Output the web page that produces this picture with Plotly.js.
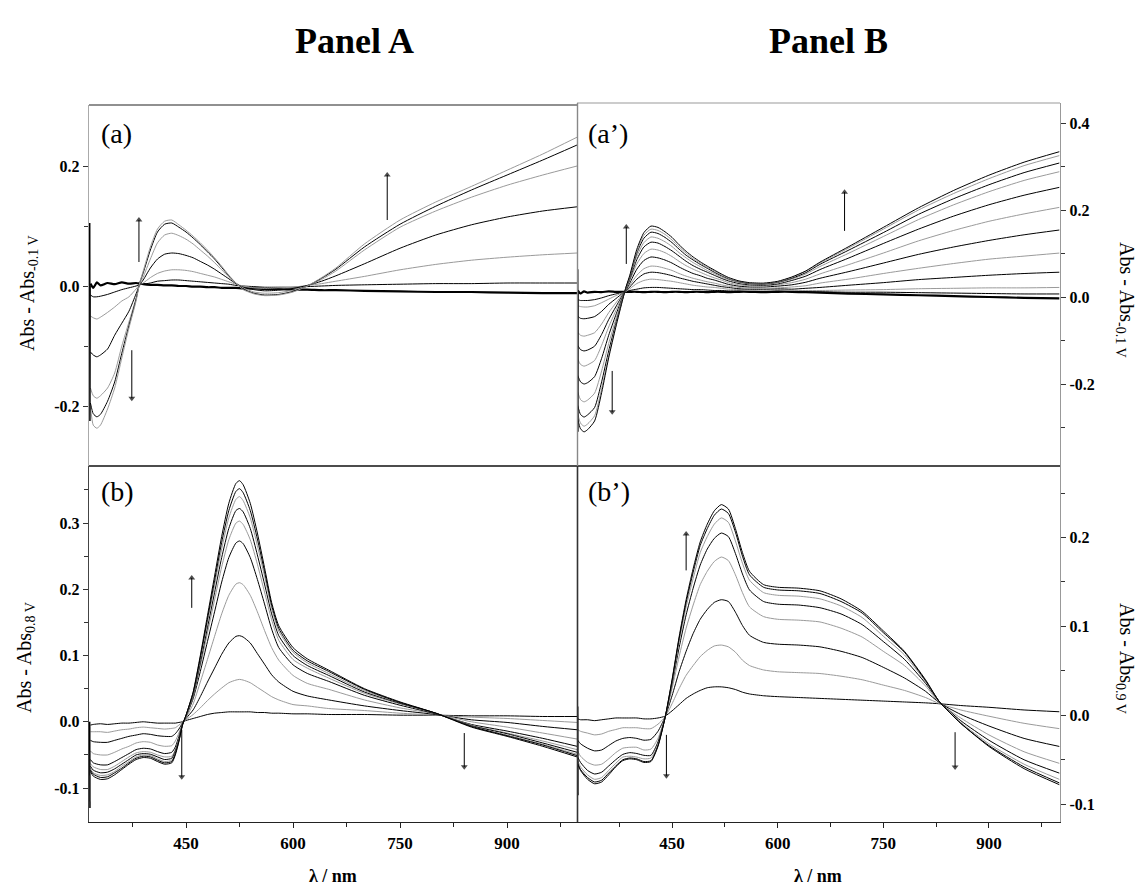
<!DOCTYPE html>
<html><head><meta charset="utf-8">
<script src="https://cdn.plot.ly/plotly-3.0.1.min.js"></script>
<style>html,body{margin:0;padding:0;background:#fff}#chart{width:1144px;height:886px}</style>
</head><body><div id="chart"></div>
<script>
// ---------- Panel (a): top-left, wavelength grid and spectra ----------
const wlA = [316,320,325,330,340,350,360,370,380,385,390,400,410,420,430,440,450,460,470,480,490,500,510,520,530,545,560,580,600,620,640,660,700,750,800,850,900,950,998];
const a1 = [0.004,-0.003,0.006,0.001,0.005,0.003,0.006,0.004,0.005,0.004,0.003,0.002,0.002,0.001,0.001,0.0,0.0,-0.001,-0.001,-0.002,-0.002,-0.003,-0.003,-0.003,-0.004,-0.004,-0.005,-0.005,-0.006,-0.006,-0.007,-0.007,-0.008,-0.009,-0.01,-0.01,-0.011,-0.012,-0.012];
const a2 = [-0.015,-0.018,-0.018,-0.017,-0.014,-0.01,-0.006,-0.003,0.0,0.002,0.003,0.005,0.008,0.009,0.01,0.01,0.009,0.008,0.007,0.006,0.005,0.004,0.003,0.001,0.0,-0.001,-0.002,-0.002,-0.002,-0.001,0.0,0.001,0.002,0.003,0.004,0.004,0.005,0.005,0.005];
const a3 = [-0.05,-0.053,-0.055,-0.052,-0.044,-0.035,-0.025,-0.018,-0.005,0.002,0.005,0.014,0.021,0.025,0.027,0.027,0.026,0.024,0.021,0.018,0.015,0.011,0.007,0.003,0.0,-0.003,-0.004,-0.003,-0.002,0.001,0.004,0.008,0.016,0.027,0.036,0.043,0.048,0.052,0.055];
const a4 = [-0.11,-0.115,-0.118,-0.115,-0.105,-0.082,-0.062,-0.042,-0.013,0.002,0.01,0.03,0.045,0.053,0.055,0.054,0.051,0.047,0.041,0.035,0.028,0.02,0.012,0.004,-0.002,-0.006,-0.008,-0.007,-0.004,0.001,0.008,0.017,0.037,0.063,0.085,0.102,0.115,0.125,0.132];
const a5 = [-0.17,-0.183,-0.187,-0.183,-0.17,-0.145,-0.1,-0.06,-0.02,0.003,0.015,0.045,0.072,0.085,0.088,0.084,0.078,0.07,0.06,0.05,0.039,0.027,0.015,0.005,-0.003,-0.01,-0.012,-0.011,-0.007,0.0,0.011,0.025,0.06,0.098,0.125,0.148,0.168,0.185,0.2];
const a6 = [-0.195,-0.213,-0.218,-0.214,-0.192,-0.16,-0.112,-0.066,-0.022,0.005,0.022,0.06,0.09,0.103,0.105,0.098,0.09,0.08,0.069,0.057,0.045,0.031,0.017,0.005,-0.005,-0.012,-0.015,-0.014,-0.009,0.0,0.013,0.028,0.065,0.103,0.133,0.16,0.185,0.21,0.235];
const a7 = [-0.2,-0.232,-0.237,-0.232,-0.205,-0.17,-0.12,-0.07,-0.025,0.005,0.025,0.065,0.095,0.108,0.11,0.102,0.093,0.083,0.072,0.06,0.047,0.033,0.018,0.005,-0.006,-0.013,-0.016,-0.015,-0.01,0.0,0.014,0.03,0.07,0.11,0.14,0.166,0.193,0.22,0.248];
const spikeA_x = [315,315.3,315.6];
const spikeA_y = [0.105,-0.225,0.0];

// ---------- Panel (a'): top-right ----------
const wlAp = [316,320,325,330,340,350,360,370,380,385,390,400,410,420,430,440,450,460,470,480,490,500,510,520,530,545,560,580,600,620,640,660,700,750,800,850,900,950,1000];
const ap1 = [0.015,0.008,0.013,0.01,0.012,0.011,0.013,0.012,0.012,0.012, 0.012,0.012,0.011,0.012,0.012,0.011,0.012,0.012,0.011,0.012,0.012,0.011,0.012,0.012,0.011,0.012,0.012,0.011,0.012, 0.012,0.011,0.01,0.008,0.006,0.004,0.002,0.0,-0.002,-0.003];
const ap2 = [-0.006,-0.008,-0.008,-0.008,-0.006,-0.002,0.003,0.007,0.011,0.013, 0.015,0.018,0.021,0.022,0.022,0.021,0.02,0.019,0.018,0.017,0.017,0.016,0.015,0.015,0.014,0.014,0.013,0.013,0.014, 0.013,0.012,0.012,0.011,0.011,0.01,0.009,0.008,0.007,0.007];
const ap3 = [-0.02,-0.022,-0.023,-0.023,-0.02,-0.013,-0.005,0.003,0.01,0.013, 0.019,0.031,0.038,0.041,0.04,0.038,0.036,0.033,0.03,0.027,0.025,0.023,0.022,0.02,0.018,0.017,0.016,0.016,0.017, 0.015,0.015,0.015,0.016,0.017,0.019,0.02,0.021,0.021,0.022];
const ap4 = [-0.044,-0.049,-0.05,-0.049,-0.045,-0.033,-0.017,-0.004,0.009,0.015, 0.023,0.041,0.053,0.057,0.056,0.053,0.049,0.044,0.04,0.036,0.033,0.03,0.027,0.024,0.022,0.019,0.018,0.018,0.019, 0.018,0.02,0.022,0.027,0.033,0.04,0.045,0.05,0.054,0.057];
const ap5 = [-0.081,-0.088,-0.09,-0.088,-0.082,-0.062,-0.036,-0.014,0.007,0.016, 0.027,0.05,0.065,0.071,0.07,0.066,0.061,0.054,0.048,0.043,0.039,0.035,0.032,0.028,0.025,0.022,0.02,0.02,0.021, 0.023,0.026,0.032,0.041,0.054,0.066,0.077,0.087,0.094,0.101];
const ap6 = [-0.111,-0.121,-0.124,-0.122,-0.113,-0.086,-0.052,-0.023,0.005,0.017, 0.032,0.064,0.084,0.092,0.09,0.085,0.078,0.069,0.061,0.054,0.049,0.043,0.039,0.034,0.029,0.025,0.023,0.023,0.025, 0.028,0.034,0.043,0.058,0.078,0.098,0.115,0.13,0.143,0.154];
const ap7 = [-0.143,-0.155,-0.159,-0.156,-0.146,-0.111,-0.069,-0.032,0.003,0.019, 0.037,0.076,0.1,0.11,0.108,0.102,0.093,0.082,0.072,0.064,0.057,0.05,0.044,0.039,0.033,0.028,0.026,0.025,0.028, 0.033,0.041,0.053,0.074,0.101,0.129,0.153,0.174,0.191,0.206];
const ap8 = [-0.18,-0.195,-0.2,-0.197,-0.183,-0.141,-0.088,-0.042,0.001,0.021, 0.041,0.086,0.115,0.126,0.124,0.116,0.106,0.094,0.082,0.072,0.064,0.057,0.05,0.043,0.037,0.031,0.028,0.027,0.03, 0.038,0.048,0.063,0.089,0.123,0.156,0.186,0.212,0.234,0.252];
const ap9 = [-0.218,-0.236,-0.241,-0.237,-0.221,-0.17,-0.107,-0.052,-0.001,0.022, 0.044,0.094,0.125,0.138,0.135,0.127,0.116,0.102,0.09,0.079,0.07,0.061,0.054,0.046,0.04,0.033,0.03,0.029,0.032, 0.041,0.053,0.07,0.1,0.139,0.178,0.212,0.242,0.268,0.288];
const ap10 = [-0.249,-0.27,-0.276,-0.271,-0.254,-0.195,-0.124,-0.061,-0.003,0.024, 0.046,0.101,0.135,0.149,0.146,0.137,0.125,0.11,0.096,0.085,0.075,0.066,0.057,0.049,0.042,0.035,0.031,0.03,0.034, 0.043,0.056,0.075,0.107,0.148,0.19,0.226,0.258,0.286,0.308];
const ap11 = [-0.268,-0.29,-0.297,-0.292,-0.273,-0.211,-0.134,-0.067,-0.004,0.024, 0.048,0.105,0.142,0.156,0.153,0.144,0.131,0.115,0.101,0.088,0.078,0.068,0.06,0.051,0.043,0.036,0.032,0.031,0.035, 0.045,0.059,0.078,0.112,0.156,0.2,0.238,0.272,0.302,0.325];
const ap12 = [-0.28,-0.303,-0.31,-0.305,-0.285,-0.22,-0.14,-0.07,-0.005,0.025, 0.05,0.11,0.148,0.163,0.16,0.15,0.137,0.12,0.105,0.092,0.081,0.071,0.062,0.053,0.045,0.037,0.033,0.032,0.036, 0.046,0.06,0.08,0.115,0.16,0.205,0.245,0.28,0.31,0.334];
const spikeAp_x = [316,316.3,316.6];
const spikeAp_y = [0.064,-0.31,0.01];

// ---------- Panel (b): bottom-left ----------
const wlB = [316,320,330,340,350,360,370,380,390,400,410,420,430,435,440,445,450,460,470,480,490,500,510,520,525,530,540,550,560,570,580,600,620,650,700,750,800,850,900,950,998];
const b1 = [-0.005,-0.004,-0.003,-0.004,-0.003,-0.002,-0.002,-0.001,0.0,-0.001,-0.002,-0.002,-0.002,-0.002,-0.001,0.0,0.002,0.005,0.008,0.011,0.013,0.014,0.015,0.015,0.015,0.015,0.015,0.014,0.014,0.013,0.013,0.012,0.012,0.011,0.011,0.01,0.01,0.009,0.009,0.008,0.008];
const b2 = [-0.015,-0.015,-0.015,-0.016,-0.014,-0.012,-0.011,-0.009,-0.008,-0.009,-0.01,-0.011,-0.01,-0.009,-0.005,-0.001,0.003,0.011,0.021,0.032,0.042,0.051,0.059,0.063,0.064,0.063,0.059,0.052,0.045,0.038,0.033,0.026,0.024,0.02,0.017,0.013,0.01,0.007,0.005,0.002,-0.001];
const b3 = [-0.028,-0.03,-0.031,-0.031,-0.028,-0.025,-0.022,-0.02,-0.018,-0.019,-0.021,-0.022,-0.022,-0.018,-0.011,-0.002,0.005,0.018,0.038,0.06,0.081,0.102,0.119,0.129,0.13,0.128,0.119,0.103,0.087,0.071,0.06,0.046,0.039,0.033,0.024,0.017,0.011,0.003,-0.001,-0.007,-0.012];
const b4 = [-0.044,-0.048,-0.05,-0.05,-0.046,-0.041,-0.037,-0.032,-0.03,-0.031,-0.035,-0.037,-0.036,-0.029,-0.017,-0.003,0.006,0.027,0.06,0.094,0.129,0.163,0.191,0.208,0.21,0.207,0.191,0.166,0.138,0.112,0.093,0.07,0.058,0.049,0.033,0.021,0.012,0.0,-0.008,-0.017,-0.026];
const b5 = [-0.057,-0.062,-0.065,-0.065,-0.06,-0.054,-0.048,-0.042,-0.04,-0.041,-0.045,-0.048,-0.046,-0.038,-0.022,-0.004,0.008,0.035,0.076,0.121,0.166,0.211,0.248,0.27,0.273,0.269,0.248,0.215,0.178,0.14,0.112,0.086,0.073,0.061,0.04,0.025,0.012,-0.004,-0.014,-0.025,-0.037];
const b6 = [-0.063,-0.068,-0.072,-0.072,-0.067,-0.06,-0.053,-0.047,-0.045,-0.046,-0.05,-0.053,-0.052,-0.042,-0.025,-0.004,0.009,0.038,0.084,0.134,0.184,0.234,0.275,0.3,0.303,0.298,0.275,0.238,0.196,0.154,0.123,0.094,0.081,0.066,0.043,0.027,0.013,-0.005,-0.017,-0.029,-0.042];
const b7 = [-0.067,-0.073,-0.077,-0.076,-0.071,-0.064,-0.057,-0.05,-0.048,-0.049,-0.053,-0.057,-0.055,-0.044,-0.027,-0.004,0.009,0.04,0.089,0.142,0.195,0.248,0.292,0.319,0.322,0.317,0.292,0.252,0.208,0.163,0.13,0.1,0.085,0.07,0.045,0.028,0.013,-0.006,-0.018,-0.032,-0.046];
const b8 = [-0.07,-0.077,-0.081,-0.08,-0.075,-0.067,-0.06,-0.053,-0.05,-0.051,-0.056,-0.06,-0.058,-0.047,-0.028,-0.005,0.009,0.042,0.094,0.15,0.206,0.261,0.308,0.336,0.34,0.334,0.308,0.266,0.22,0.171,0.137,0.105,0.089,0.073,0.047,0.029,0.013,-0.007,-0.02,-0.034,-0.049];
const b9 = [-0.073,-0.079,-0.084,-0.083,-0.077,-0.07,-0.062,-0.055,-0.052,-0.053,-0.058,-0.062,-0.06,-0.048,-0.029,-0.005,0.01,0.044,0.097,0.155,0.213,0.271,0.319,0.348,0.352,0.346,0.319,0.276,0.227,0.176,0.141,0.108,0.092,0.076,0.049,0.029,0.013,-0.007,-0.021,-0.035,-0.051];
const b10 = [-0.075,-0.082,-0.087,-0.086,-0.08,-0.072,-0.064,-0.057,-0.054,-0.055,-0.06,-0.064,-0.062,-0.05,-0.03,-0.005,0.01,0.045,0.1,0.16,0.22,0.28,0.33,0.36,0.364,0.358,0.33,0.285,0.233,0.18,0.145,0.112,0.095,0.078,0.05,0.03,0.013,-0.008,-0.022,-0.037,-0.053];
const spikeB_x = [315,315.3];
const spikeB_y = [0.0,-0.13];

// ---------- Panel (b'): bottom-right ----------
const wlBp = [316,320,330,340,350,360,370,380,390,400,410,420,430,440,450,460,470,480,490,500,510,520,530,540,550,560,580,600,630,660,690,720,750,780,810,830,860,900,950,1000];
const bp1 = [-0.004,-0.005,-0.005,-0.006,-0.005,-0.004,-0.003,-0.003,-0.003,-0.003,-0.004,-0.004,-0.003,-0.001,0.005,0.012,0.019,0.024,0.028,0.031,0.032,0.032,0.031,0.029,0.026,0.024,0.022,0.021,0.02,0.019,0.018,0.017,0.016,0.015,0.014,0.013,0.011,0.009,0.006,0.004];
const bp2 = [-0.016,-0.018,-0.02,-0.022,-0.021,-0.018,-0.016,-0.014,-0.014,-0.014,-0.015,-0.015,-0.01,-0.002,0.013,0.03,0.045,0.056,0.066,0.073,0.078,0.079,0.077,0.071,0.062,0.056,0.051,0.049,0.048,0.047,0.044,0.04,0.034,0.028,0.02,0.013,0.006,-0.001,-0.009,-0.015];
const bp3 = [-0.028,-0.032,-0.037,-0.04,-0.039,-0.034,-0.029,-0.026,-0.025,-0.026,-0.028,-0.027,-0.018,-0.002,0.022,0.049,0.072,0.092,0.108,0.119,0.127,0.13,0.128,0.116,0.101,0.09,0.082,0.08,0.079,0.077,0.072,0.065,0.054,0.042,0.027,0.014,0.001,-0.012,-0.026,-0.035];
const bp4 = [-0.04,-0.046,-0.053,-0.056,-0.055,-0.049,-0.042,-0.037,-0.036,-0.036,-0.039,-0.038,-0.026,-0.002,0.03,0.066,0.098,0.124,0.147,0.162,0.173,0.178,0.174,0.158,0.138,0.122,0.111,0.108,0.107,0.105,0.098,0.088,0.072,0.056,0.033,0.014,-0.003,-0.022,-0.041,-0.054];
const bp5 = [-0.047,-0.053,-0.062,-0.066,-0.064,-0.057,-0.05,-0.044,-0.042,-0.043,-0.045,-0.045,-0.03,-0.003,0.035,0.076,0.113,0.143,0.169,0.187,0.199,0.205,0.201,0.182,0.159,0.141,0.128,0.125,0.124,0.121,0.114,0.102,0.083,0.063,0.036,0.015,-0.006,-0.028,-0.05,-0.065];
const bp6 = [-0.051,-0.058,-0.067,-0.072,-0.07,-0.062,-0.054,-0.047,-0.046,-0.047,-0.049,-0.048,-0.033,-0.003,0.037,0.082,0.122,0.154,0.183,0.201,0.215,0.222,0.217,0.196,0.171,0.152,0.138,0.135,0.134,0.131,0.123,0.11,0.089,0.068,0.038,0.015,-0.008,-0.032,-0.055,-0.072];
const bp7 = [-0.054,-0.061,-0.07,-0.075,-0.073,-0.065,-0.057,-0.05,-0.048,-0.049,-0.052,-0.051,-0.034,-0.003,0.039,0.086,0.127,0.161,0.191,0.21,0.225,0.232,0.227,0.206,0.179,0.158,0.144,0.141,0.14,0.137,0.128,0.115,0.093,0.071,0.039,0.015,-0.009,-0.034,-0.058,-0.076];
const bp8 = [-0.055,-0.062,-0.072,-0.077,-0.075,-0.067,-0.058,-0.051,-0.049,-0.05,-0.053,-0.052,-0.035,-0.003,0.04,0.088,0.13,0.165,0.195,0.215,0.23,0.237,0.232,0.21,0.183,0.162,0.147,0.144,0.143,0.14,0.131,0.117,0.095,0.072,0.04,0.015,-0.009,-0.035,-0.06,-0.078];
const spikeBp_x = [316,316.3];
const spikeBp_y = [0.01,-0.09];

// ---------- tick labels ----------
const xTickVals = [450,600,750,900];
const xTickText = ['450','600','750','900'];
const xMinor = [375,525,675,825,975];
const yA_vals = [-0.2,0,0.2];      const yA_text = ['-0.2','0.0','0.2'];   const yA_minor = [-0.1,0.1];
const yAp_vals = [-0.2,0,0.2,0.4]; const yAp_text = ['-0.2','0.0','0.2','0.4']; const yAp_minor = [-0.3,-0.1,0.1,0.3];
const yB_vals = [-0.1,0,0.1,0.2,0.3]; const yB_text = ['-0.1','0.0','0.1','0.2','0.3']; const yB_minor = [-0.05,0.05,0.15,0.25,0.35];
const yBp_vals = [-0.1,0,0.1,0.2]; const yBp_text = ['-0.1','0.0','0.1','0.2']; const yBp_minor = [-0.05,0.05,0.15,0.25];

// arrows: [wavelength, tail value, tip value]
const arrowsA  = [[384,0.04,0.11],[374,-0.107,-0.187],[732,0.11,0.185]];
const arrowsAp = [[385,0.076,0.161],[365,-0.17,-0.264],[695,0.152,0.241]];
const arrowsB  = [[458,0.172,0.217],[444,-0.012,-0.083],[840,-0.017,-0.068]];
const arrowsBp = [[470,0.163,0.204],[442,-0.022,-0.068],[852,-0.019,-0.058]];

// ---------- build ----------
const BLK = '#000000', GRY = '#9a9a9a';
function ln(x, y, color, xa, ya, w, lin) {
  return {type:'scatter', mode:'lines', x:x, y:y, xaxis:xa, yaxis:ya,
    line:{color:color, width:w||1, shape: lin ? 'linear' : 'spline', smoothing:0.6},
    hoverinfo:'skip', showlegend:false};
}
const traces = [];
[[a1,BLK,2.2],[a2,BLK,1],[a3,GRY,1],[a4,BLK,1],[a5,GRY,1],[a6,BLK,1],[a7,GRY,1]].forEach(s=>traces.push(ln(wlA,s[0],s[1],'x2','y2',s[2])));
traces.push(ln(spikeA_x,spikeA_y,BLK,'x2','y2',1.5,true));
[[ap1,BLK,2.2],[ap2,BLK,1],[ap3,GRY,1],[ap4,BLK,1],[ap5,GRY,1],[ap6,BLK,1],[ap7,GRY,1],[ap8,BLK,1],[ap9,GRY,1],[ap10,BLK,1],[ap11,GRY,1],[ap12,BLK,1]].forEach(s=>traces.push(ln(wlAp,s[0],s[1],'x4','y4',s[2])));
traces.push(ln(spikeAp_x,spikeAp_y,BLK,'x4','y4',1.5,true));
[[b1,BLK],[b2,GRY],[b3,BLK],[b4,GRY],[b5,BLK],[b6,GRY],[b7,BLK],[b8,GRY],[b9,BLK],[b10,BLK]].forEach(s=>traces.push(ln(wlB,s[0],s[1],'x','y',1)));
traces.push(ln(spikeB_x,spikeB_y,BLK,'x','y',1.5,true));
[[bp1,BLK],[bp2,GRY],[bp3,BLK],[bp4,GRY],[bp5,BLK],[bp6,GRY],[bp7,BLK],[bp8,BLK]].forEach(s=>traces.push(ln(wlBp,s[0],s[1],'x3','y3',1)));
traces.push(ln(spikeBp_x,spikeBp_y,BLK,'x3','y3',1.5,true));

function arrowTraces(list, xa, ya) {
  list.forEach(a => {
    const up = a[2] > a[1];
    traces.push({type:'scatter', mode:'lines+markers', x:[a[0],a[0]], y:[a[1],a[2]], xaxis:xa, yaxis:ya,
      line:{color:'#000', width:1}, marker:{symbol: up ? 'triangle-up' : 'triangle-down', size:[0,6], color:'#000', line:{width:0}},
      hoverinfo:'skip', showlegend:false});
  });
}
arrowTraces(arrowsA, 'x2', 'y2');
arrowTraces(arrowsAp, 'x4', 'y4');
arrowTraces(arrowsB, 'x', 'y');
arrowTraces(arrowsBp, 'x3', 'y3');

const W = 1144, H = 886;
const PX = p => p / W, PY = p => 1 - p / H;
const FONT = 'Liberation Serif, Times New Roman, serif';
const tickFont = {family:FONT, size:16, color:'#000', weight:'bold'};

function xBottom(dom, rng, anchor) {
  return {domain:dom, range:rng, anchor:anchor, showgrid:false, zeroline:false,
    showline:true, linecolor:'#222', linewidth:1.2, ticks:'outside', ticklen:5, tickcolor:'#222',
    tickmode:'array', tickvals:xTickVals, ticktext:xTickText, tickfont:{family:FONT,size:17,color:'#000',weight:'bold'},
    minor:{tickmode:'array', tickvals:xMinor, ticks:'outside', ticklen:4, tickcolor:'#222', showgrid:false}};
}
function xTop(dom, rng, anchor) {
  return {domain:dom, range:rng, anchor:anchor, visible:false, showgrid:false, zeroline:false, showline:false,
    showticklabels:false, ticks:''};
}
function yAx(dom, rng, anchor, side, vals, text, minor, lc) {
  return {domain:dom, range:rng, anchor:anchor, side:side, showgrid:false, zeroline:false,
    showline:true, linecolor:lc, linewidth:1.2, ticks:'outside', ticklen:5, tickcolor:'#333',
    tickmode:'array', tickvals:vals, ticktext:text, tickfont:tickFont,
    minor:{tickmode:'array', tickvals:minor, ticks:'outside', ticklen:4, tickcolor:'#333', showgrid:false}};
}
const domL = [PX(89), PX(577)], domR = [PX(577), PX(1060)];
const domBot = [PY(822), PY(466)];
const layout = {
  width:W, height:H, autosize:false, margin:{l:0,r:0,t:0,b:0},
  paper_bgcolor:'#fff', plot_bgcolor:'rgba(0,0,0,0)', showlegend:false,
  xaxis:  xBottom(domL, [314,998], 'y'),
  yaxis:  yAx(domBot, [-0.1513,0.3862], 'x', 'left', yB_vals, yB_text, yB_minor, '#444'),
  xaxis2: xTop(domL, [314,998], 'y2'),
  yaxis2: yAx([PY(466), PY(105)], [-0.3,0.3017], 'x2', 'left', yA_vals, yA_text, yA_minor, '#aaa'),
  xaxis3: xBottom(domR, [315,1001], 'y3'),
  yaxis3: yAx(domBot, [-0.12,0.2804], 'x3', 'right', yBp_vals, yBp_text, yBp_minor, '#999'),
  xaxis4: xTop(domR, [315,1001], 'y4'),
  yaxis4: yAx([PY(466), PY(103)], [-0.3885,0.446], 'x4', 'right', yAp_vals, yAp_text, yAp_minor, '#999'),
  shapes: [
    {type:'line', xref:'paper', yref:'paper', x0:PX(89), x1:PX(577), y0:PY(105), y1:PY(105), line:{color:'#222', width:1.2}},
    {type:'line', xref:'paper', yref:'paper', x0:PX(577), x1:PX(1060), y0:PY(103), y1:PY(103), line:{color:'#999', width:1.2}},
    {type:'line', xref:'paper', yref:'paper', x0:PX(89), x1:PX(1060), y0:PY(466), y1:PY(466), line:{color:'#111', width:1.6}},
    {type:'line', xref:'paper', yref:'paper', x0:PX(577.5), x1:PX(577.5), y0:PY(103), y1:PY(466), line:{color:'#888', width:1.4}},
    {type:'line', xref:'paper', yref:'paper', x0:PX(577.5), x1:PX(577.5), y0:PY(466), y1:PY(822), line:{color:'#333', width:1.6}}
  ],
  annotations: []
};
const ann = layout.annotations;
function txt(x, y, t, size, opts) {
  ann.push(Object.assign({xref:'paper', yref:'paper', x:PX(x), y:PY(y), text:t, showarrow:false,
    font:{family:FONT, size:size, color:'#000'}, xanchor:'center', yanchor:'middle'}, opts||{}));
}
txt(354, 41, '<b>Panel A</b>', 36);
txt(828, 41, '<b>Panel B</b>', 36);
txt(99, 133, '(a)', 28, {xanchor:'left'});
txt(586, 133, '(a\u2019)', 28, {xanchor:'left'});
txt(99, 492, '(b)', 28, {xanchor:'left'});
txt(586, 492, '(b\u2019)', 28, {xanchor:'left'});
txt(28, 293, 'Abs - Abs<sub>-0.1 V</sub>', 20, {textangle:-90});
txt(25, 658, 'Abs - Abs<sub>0.8 V</sub>', 20, {textangle:-90});
txt(1126, 300, 'Abs - Abs<sub>-0.1 V</sub>', 20, {textangle:90});
txt(1126, 658, 'Abs - Abs<sub>0.9 V</sub>', 20, {textangle:90});
txt(333, 876, '<b>\u03bb / nm</b>', 18);
txt(818, 876, '<b>\u03bb / nm</b>', 18);

Plotly.newPlot('chart', traces, layout, {staticPlot:true, displayModeBar:false});
</script></body></html>
